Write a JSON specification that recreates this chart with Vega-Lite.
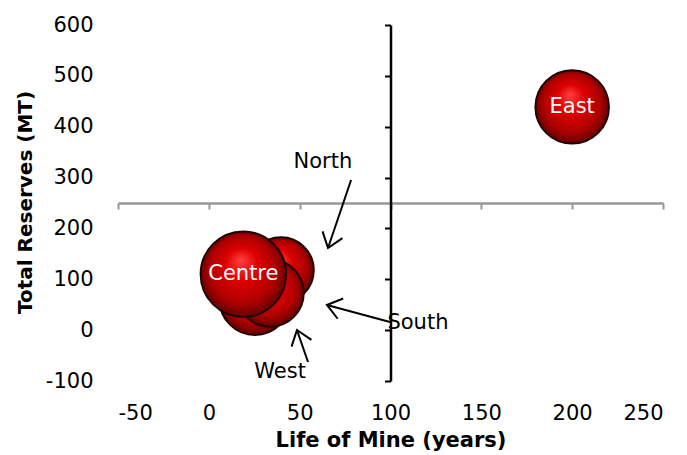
{
  "$schema": "https://vega.github.io/schema/vega-lite/v6.json",
  "width": 545,
  "height": 356,
  "autosize": "none",
  "padding": {"left": 118, "top": 25, "right": 24, "bottom": 74},
  "config": {"view": {"stroke": null}, "font": "DejaVu Sans"},
  "datasets": {
    "bubbles": [
      {"region": "North", "life": 39.7, "reserves": 118, "bubble": 4300},
      {"region": "West", "life": 25.4, "reserves": 60, "bubble": 5000},
      {"region": "South", "life": 33.7, "reserves": 73, "bubble": 4540},
      {"region": "Centre", "life": 19, "reserves": 110, "bubble": 7300},
      {"region": "East", "life": 200, "reserves": 439, "bubble": 5400}
    ],
    "notes": [
      {"label": "North", "lx": 62.8, "ly": 330.6, "sx": 78.3, "sy": 295.2, "tx": 65.6, "ty": 161.5, "angle": 108.7},
      {"label": "South", "lx": 115.1, "ly": 14.1, "sx": 99.7, "sy": 16, "tx": 65, "ty": 49.5, "angle": 195.1},
      {"label": "West", "lx": 39.2, "ly": -82.3, "sx": 54.6, "sy": -62.6, "tx": 48.5, "ty": 0.3, "angle": 251}
    ],
    "crossX": [{"xv": 100}],
    "crossY": [{"yv": 250}]
  },
  "resolve": {"axis": {"x": "independent", "y": "independent"}},
  "layer": [
    {
      "data": {"name": "crossY"},
      "mark": {"type": "rule", "color": "#979797", "strokeWidth": 0},
      "encoding": {
        "y": {"field": "yv", "type": "quantitative", "scale": {"domain": [-100, 600], "nice": false, "zero": false},
          "axis": {"orient": "left", "offset": -272.5, "labels": false, "title": null, "grid": false,
            "domain": true, "domainColor": "#000000", "domainWidth": 2.5, "ticks": true, "tickColor": "#000000",
            "tickWidth": 2, "tickSize": 6, "values": [-100, 0, 100, 200, 300, 400, 500, 600]}}
      }
    },
    {
      "data": {"name": "crossX"},
      "mark": {"type": "rule", "color": "#000000", "strokeWidth": 0},
      "encoding": {
        "x": {"field": "xv", "type": "quantitative", "scale": {"domain": [-50, 250], "nice": false, "zero": false},
          "axis": {"orient": "bottom", "offset": -178, "labels": false, "title": null, "grid": false,
            "domain": true, "domainColor": "#979797", "domainWidth": 2.5, "ticks": true, "tickColor": "#979797",
            "tickWidth": 2, "tickSize": 6, "values": [-50, 0, 50, 100, 150, 200, 250]}}
      }
    },
    {
      "data": {"name": "bubbles"},
      "mark": {
        "type": "point", "filled": true, "opacity": 1,
        "fill": {"gradient": "radial", "x1": 0.47, "y1": 0.33, "r1": 0, "x2": 0.5, "y2": 0.5, "r2": 0.55,
          "stops": [
            {"offset": 0, "color": "#ff4040"},
            {"offset": 0.35, "color": "#dd0000"},
            {"offset": 0.7, "color": "#b00000"},
            {"offset": 0.92, "color": "#6a0000"}
          ]},
        "stroke": "#1c0505", "strokeWidth": 2
      },
      "encoding": {
        "x": {"field": "life", "type": "quantitative", "scale": {"domain": [-50, 250], "nice": false, "zero": false},
          "axis": {"orient": "bottom", "domain": false, "ticks": false, "tickSize": 0, "grid": false,
            "values": [-50, 0, 50, 100, 150, 200, 250], "labelFontSize": 21, "labelColor": "#000000",
            "labelExpr": "datum.value < 0 ? '-' + abs(datum.value) : '' + datum.value",
            "labelPadding": 21, "title": "Life of Mine (years)", "titleFontSize": 21, "titleFontWeight": "bold",
            "titleColor": "#000000", "titleX": 272.5, "titleY": 59, "titleBaseline": "middle"}},
        "y": {"field": "reserves", "type": "quantitative", "scale": {"domain": [-100, 600], "nice": false, "zero": false},
          "axis": {"orient": "left", "domain": false, "ticks": false, "tickSize": 0, "grid": false,
            "values": [-100, 0, 100, 200, 300, 400, 500, 600], "labelFontSize": 21, "labelColor": "#000000",
            "labelExpr": "datum.value < 0 ? '-' + abs(datum.value) : '' + datum.value",
            "labelPadding": 25, "title": "Total Reserves (MT)", "titleFontSize": 20, "titleFontWeight": "bold",
            "titleColor": "#000000", "titleX": -93, "titleY": 177, "titleBaseline": "middle"}},
        "size": {"field": "bubble", "type": "quantitative", "scale": {"domain": [0, 7300], "range": [0, 7300]}, "legend": null}
      }
    },
    {
      "data": {"name": "bubbles"},
      "transform": [{"filter": "datum.region === 'Centre' || datum.region === 'East'"}],
      "mark": {"type": "text", "color": "#ffffff", "fontSize": 21},
      "encoding": {
        "x": {"field": "life", "type": "quantitative", "axis": null},
        "y": {"field": "reserves", "type": "quantitative", "axis": null},
        "text": {"field": "region"}
      }
    },
    {
      "data": {"name": "notes"},
      "mark": {"type": "rule", "color": "#000000", "strokeWidth": 2},
      "encoding": {
        "x": {"field": "sx", "type": "quantitative", "axis": null},
        "y": {"field": "sy", "type": "quantitative", "axis": null},
        "x2": {"field": "tx"},
        "y2": {"field": "ty"}
      }
    },
    {
      "data": {"name": "notes"},
      "mark": {"type": "point", "filled": false, "shape": "M -1 -0.75 L 0 0 L -1 0.75", "size": 784,
        "stroke": "#000000", "strokeWidth": 2, "opacity": 1},
      "encoding": {
        "x": {"field": "tx", "type": "quantitative", "axis": null},
        "y": {"field": "ty", "type": "quantitative", "axis": null},
        "angle": {"field": "angle", "type": "quantitative", "scale": null}
      }
    },
    {
      "data": {"name": "notes"},
      "mark": {"type": "text", "color": "#000000", "fontSize": 21},
      "encoding": {
        "x": {"field": "lx", "type": "quantitative", "axis": null},
        "y": {"field": "ly", "type": "quantitative", "axis": null},
        "text": {"field": "label"}
      }
    }
  ]
}
